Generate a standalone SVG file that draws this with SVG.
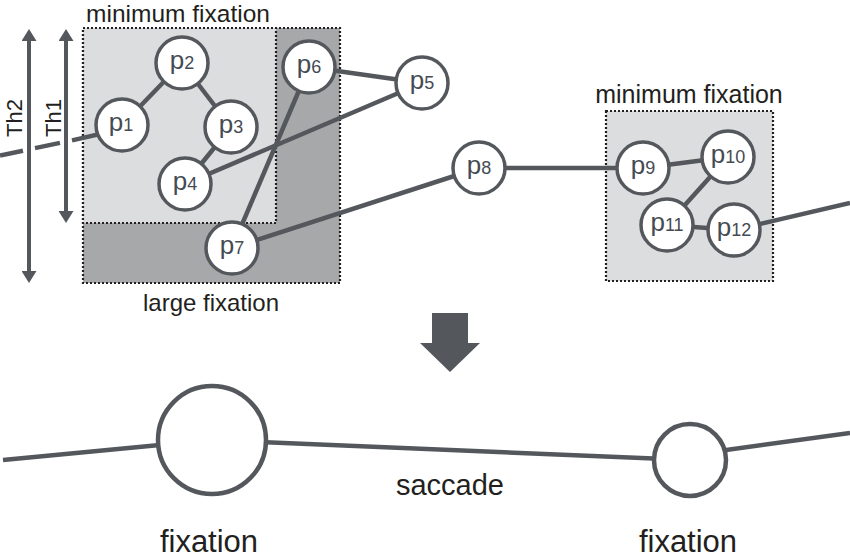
<svg xmlns="http://www.w3.org/2000/svg" width="850" height="558" viewBox="0 0 850 558">
<style>
.lbl{font-family:"Liberation Sans",Arial,sans-serif;fill:#231f20}
.edge{stroke:#54585d;stroke-width:4.5;fill:none}
.node circle{fill:#fff;stroke:#54585d;stroke-width:3.5}
.node text{font-family:"Liberation Sans",Arial,sans-serif;fill:#454b52;font-size:26px;text-anchor:middle}
.node tspan{font-size:18px}
.box{stroke:#231f20;stroke-width:2.2;stroke-dasharray:2 2}
</style>
<defs>
<marker id="ah" viewBox="0 0 12 15" refX="1" refY="7.5" markerWidth="12" markerHeight="15" markerUnits="userSpaceOnUse" orient="auto-start-reverse">
<path d="M0,0 L12,7.5 L0,15 Z" fill="#54585d"/>
</marker>
</defs>
<rect width="850" height="558" fill="#fff"/>

<g id="large-fixation">
<rect class="box" x="83" y="28" width="257" height="255" fill="#a6a8aa"/>
<text class="lbl" x="211" y="311" font-size="24" text-anchor="middle">large fixation</text>
</g>
<g id="minimum-fixation-1">
<rect class="box" x="83" y="28" width="193" height="195" fill="#dcdddf"/>
<text class="lbl" x="178" y="22" font-size="24.5" text-anchor="middle">minimum fixation</text>
</g>
<g id="minimum-fixation-2">
<rect class="box" x="606" y="111" width="167" height="170" fill="#dcdddf"/>
<text class="lbl" x="689" y="103" font-size="25" text-anchor="middle">minimum fixation</text>
</g>

<g id="thresholds">
<line x1="29" y1="40" x2="29" y2="272" stroke="#54585d" stroke-width="4" marker-start="url(#ah)" marker-end="url(#ah)"/>
<line x1="66" y1="40" x2="66" y2="212" stroke="#54585d" stroke-width="4" marker-start="url(#ah)" marker-end="url(#ah)"/>
<text class="lbl" transform="translate(22,118) rotate(-90)" font-size="22" text-anchor="middle">Th2</text>
<text class="lbl" transform="translate(61,118) rotate(-90)" font-size="22" text-anchor="middle">Th1</text>
</g>

<g id="connectors">
<line class="edge" x1="0" y1="155.5" x2="23" y2="150.7"/>
<line class="edge" x1="35" y1="148.1" x2="60" y2="142.9"/>
<line class="edge" x1="72" y1="140.4" x2="122" y2="129"/>
<line class="edge" x1="122" y1="125" x2="182" y2="63"/>
<line class="edge" x1="182" y1="63" x2="231" y2="127"/>
<line class="edge" x1="231" y1="127" x2="185" y2="184"/>
<line class="edge" x1="185" y1="184" x2="422" y2="83"/>
<line class="edge" x1="309" y1="67" x2="422" y2="83"/>
<line class="edge" x1="309" y1="67" x2="232" y2="248"/>
<line class="edge" x1="232" y1="248" x2="479" y2="168"/>
<line class="edge" x1="479" y1="168" x2="643" y2="168"/>
<line class="edge" x1="643" y1="168" x2="728" y2="157"/>
<line class="edge" x1="728" y1="157" x2="667" y2="225"/>
<line class="edge" x1="667" y1="225" x2="734" y2="230"/>
<line class="edge" x1="734" y1="230" x2="850" y2="203"/>
<line class="edge" stroke-width="5.5" x1="3" y1="460" x2="212" y2="440"/>
<line class="edge" stroke-width="5.5" x1="212" y1="440" x2="690" y2="460"/>
<line class="edge" stroke-width="5.5" x1="690" y1="455" x2="850" y2="433"/>
</g>

<g id="p1" class="node"><circle cx="122" cy="125" r="26"/><text x="121" y="131">p<tspan>1</tspan></text></g>
<g id="p2" class="node"><circle cx="182" cy="63" r="26"/><text x="182" y="69">p<tspan>2</tspan></text></g>
<g id="p3" class="node"><circle cx="231" cy="127" r="26"/><text x="231" y="133">p<tspan>3</tspan></text></g>
<g id="p4" class="node"><circle cx="185" cy="184" r="26"/><text x="185" y="190">p<tspan>4</tspan></text></g>
<g id="p5" class="node"><circle cx="422" cy="83" r="26"/><text x="422" y="89">p<tspan>5</tspan></text></g>
<g id="p6" class="node"><circle cx="309" cy="67" r="26"/><text x="309" y="73">p<tspan>6</tspan></text></g>
<g id="p7" class="node"><circle cx="232" cy="248" r="26"/><text x="232" y="254">p<tspan>7</tspan></text></g>
<g id="p8" class="node"><circle cx="479" cy="168" r="26"/><text x="479" y="174">p<tspan>8</tspan></text></g>
<g id="p9" class="node"><circle cx="643" cy="168" r="26"/><text x="643" y="174">p<tspan>9</tspan></text></g>
<g id="p10" class="node"><circle cx="728" cy="157" r="26"/><text x="728" y="163">p<tspan>10</tspan></text></g>
<g id="p11" class="node"><circle cx="667" cy="225" r="26"/><text x="667" y="231">p<tspan>11</tspan></text></g>
<g id="p12" class="node"><circle cx="734" cy="230" r="26"/><text x="734" y="236">p<tspan>12</tspan></text></g>

<g id="transform-arrow">
<polygon points="432,313 468,313 468,343 480,343 450,372 420,343 432,343" fill="#54585d"/>
</g>

<g id="fixation-1">
<circle cx="212" cy="440" r="54" fill="#fff" stroke="#54585d" stroke-width="4.5"/>
<text class="lbl" x="209" y="552" font-size="31" text-anchor="middle">fixation</text>
</g>
<g id="fixation-2">
<circle cx="690" cy="460" r="36" fill="#fff" stroke="#54585d" stroke-width="4.5"/>
<text class="lbl" x="688" y="552" font-size="31" text-anchor="middle">fixation</text>
</g>
<g id="saccade">
<text class="lbl" x="450" y="495" font-size="29" text-anchor="middle">saccade</text>
</g>
</svg>
